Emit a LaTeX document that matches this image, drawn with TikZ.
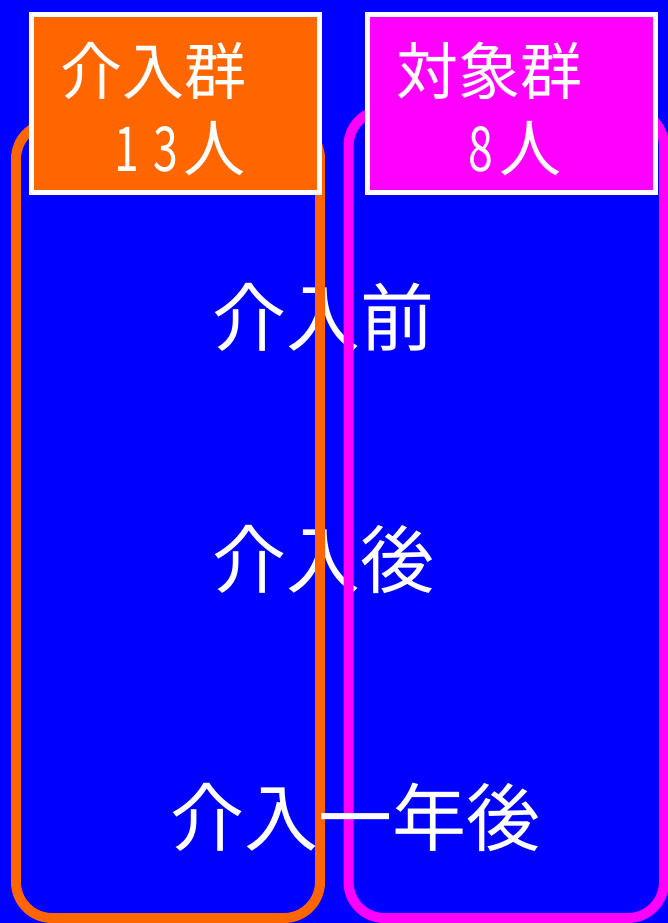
\documentclass[tikz,border=0pt]{standalone}
\usepackage{fontspec}
\setmainfont{Noto Sans CJK JP}
\usepackage{graphicx}
\definecolor{bgblue}{HTML}{0000FF}
\definecolor{grpA}{HTML}{FF6600}
\definecolor{grpB}{HTML}{FF00FF}
\newcommand{\narrowdigit}[1]{\scalebox{0.72}[1]{#1}}
\tikzset{
  bigtext/.style={text=white, anchor=base, inner sep=0pt, font=\fontsize{74}{74}\selectfont},
  labeltext/.style={text=white, anchor=base, inner sep=0pt, font=\fontsize{62}{62}\selectfont},
  grouplane/.style={line width=10pt, rounded corners=36pt},
  labelbox/.style={draw=white, line width=5pt, inner sep=0pt, minimum width=288pt, minimum height=178pt}
}
\begin{document}
\begin{tikzpicture}[x=1pt,y=-1pt]
\fill[bgblue] (0,0) rectangle (668,923);
\useasboundingbox (0,0) rectangle (668,923);
% stage labels lying under the lanes
\node[bigtext] (pre) at (323,345) {介入前};
\node[bigtext] (post) at (323,587) {介入後};
% lanes
\draw[grouplane, draw=grpA] (16,123) rectangle (320,918);
\draw[grouplane, draw=grpB] (348.5,110) rectangle (664,918);
% group label boxes
\node[labelbox, fill=grpA] (boxA) at (175.5,103.5) {};
\node[labelbox, fill=grpB] (boxB) at (511.5,103.5) {};
\node[labeltext] (nameA) at (153.5,95) {介入群};
\node[labeltext] (countA) at (180,171) {\narrowdigit{1}\hspace{14pt}\narrowdigit{3}\hspace{6pt}人};
\node[labeltext] (nameB) at (489.5,95) {対象群};
\node[labeltext] (countB) at (515,171) {\narrowdigit{8}\hspace{6pt}人};
% stage label lying over the lanes
\node[bigtext] (year) at (355,845) {介入一年後};
\end{tikzpicture}
\end{document}
